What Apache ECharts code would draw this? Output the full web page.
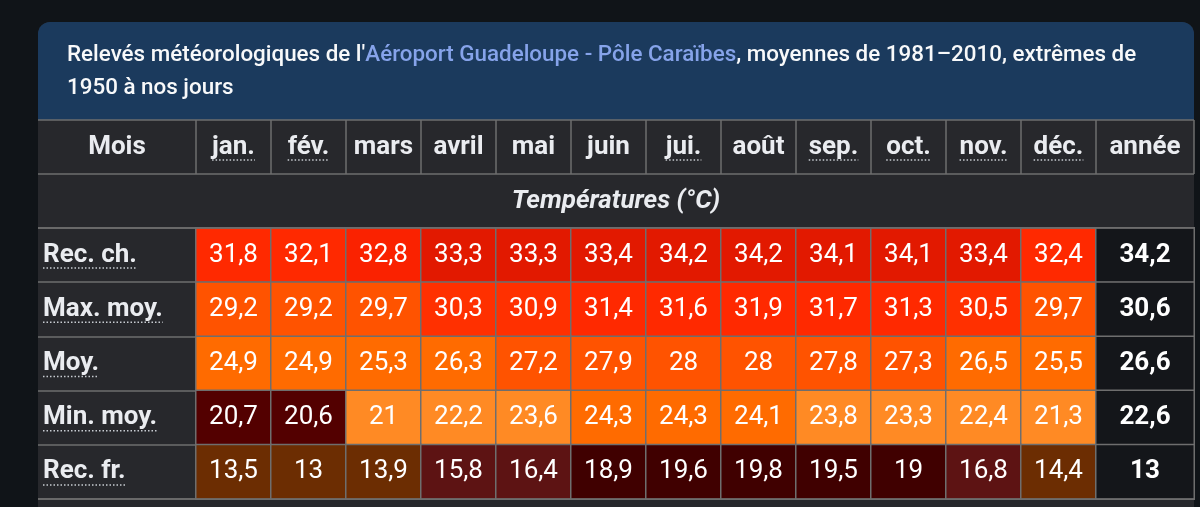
<!DOCTYPE html>
<html><head><meta charset="utf-8">
<script src="https://cdn.jsdelivr.net/npm/echarts@6/dist/echarts.min.js"></script>
<style>html,body{margin:0;padding:0;background:#101418;}#c{width:1200px;height:507px;}</style>
</head><body><div id="c"></div>
<script>
const months = ['jan.','fév.','mars','avril','mai','juin','jui.','août','sep.','oct.','nov.','déc.'];
const yearLabel = ['année'];
const rowNames = ['Rec. ch.','Max. moy.','Moy.','Min. moy.','Rec. fr.'];
const recCh  = [31.8,32.1,32.8,33.3,33.3,33.4,34.2,34.2,34.1,34.1,33.4,32.4];
const maxMoy = [29.2,29.2,29.7,30.3,30.9,31.4,31.6,31.9,31.7,31.3,30.5,29.7];
const moy    = [24.9,24.9,25.3,26.3,27.2,27.9,28,28,27.8,27.3,26.5,25.5];
const minMoy = [20.7,20.6,21,22.2,23.6,24.3,24.3,24.1,23.8,23.3,22.4,21.3];
const recFr  = [13.5,13,13.9,15.8,16.4,18.9,19.6,19.8,19.5,19,16.8,14.4];
const annee  = [34.2,30.6,26.6,22.6,13];
const abbrev = ['jan.','fév.','jui.','sep.','oct.','nov.','déc.'];

const FONT = 'Roboto, "Noto Sans", sans-serif';
const TXT = '#eaecf0';
const LINE = '#6e6e6e';
const rows = [recCh, maxMoy, moy, minMoy, recFr];
const monthData = [];
rows.forEach((r, yi) => r.forEach((v, xi) => monthData.push([xi, yi, v])));
const yearData = annee.map((v, yi) => [0, yi, v]);
const fmt = p => String(p.value[2]).replace('.', ',');

const chart = echarts.init(document.getElementById('c'));

const CARD_L = 38, CARD_R = 1194, CARD_T = 22;
const G_TOP = 228, G_H = 271;
const HEAD_FS = 26, ROW_FS = 26, VAL_FS = 26;

const baseGraphics = [
  {type:'rect', z:-10, shape:{x:CARD_L, y:CARD_T, width:CARD_R-CARD_L, height:507-CARD_T+20, r:[12,12,0,0]}, style:{fill:'#27282c'}},
  {type:'rect', z:-9, shape:{x:CARD_L, y:CARD_T, width:CARD_R-CARD_L, height:98, r:[12,12,0,0]}, style:{fill:'#1b3a5d'}},
  {type:'line', z:10, shape:{x1:CARD_L, y1:120, x2:CARD_R, y2:120}, style:{stroke:LINE, lineWidth:1.5}},
  {type:'line', z:10, shape:{x1:CARD_L, y1:174, x2:CARD_R, y2:174}, style:{stroke:LINE, lineWidth:1.5}},
  {type:'line', z:10, shape:{x1:CARD_L, y1:228, x2:CARD_R, y2:228}, style:{stroke:LINE, lineWidth:1.5}},
  {type:'line', z:10, shape:{x1:CARD_L, y1:499, x2:CARD_R, y2:499}, style:{stroke:LINE, lineWidth:1.5}},
  {type:'text', z:10, x:117, y:147, style:{text:'Mois', fill:TXT, font:'bold ' + HEAD_FS + 'px ' + FONT, textAlign:'center', textVerticalAlign:'middle'}},
  {type:'text', z:10, x:616, y:201, style:{text:'Températures (°C)', fill:TXT, font:'italic bold 26px ' + FONT, textAlign:'center', textVerticalAlign:'middle'}}
];

const headLabel = {interval:0, margin:27, verticalAlign:'middle', color:TXT, fontSize:HEAD_FS, fontWeight:'bold', fontFamily:FONT};

chart.setOption({
  backgroundColor:'#101418',
  animation:false,
  title:{
    left:62, top:34,
    text:"{w|Relevés météorologiques de l'}{l|Aéroport Guadeloupe - Pôle Caraïbes}{w|, moyennes de 1981–2010, extrêmes de}\n{w|1950 à nos jours}",
    textStyle:{rich:{
      w:{color:'#f8f9fa', fontSize:22.4, fontWeight:500, fontFamily:FONT, lineHeight:33},
      l:{color:'#86a3ea', fontSize:22.4, fontWeight:500, fontFamily:FONT, lineHeight:33}
    }}
  },
  grid:[
    {left:196, top:G_TOP, width:900, height:G_H},
    {left:1096, top:G_TOP, width:CARD_R-1096, height:G_H}
  ],
  xAxis:[
    {type:'category', gridIndex:0, data:months, position:'top', offset:54,
     axisLine:{show:false}, axisTick:{show:true, interval:0, length:54, lineStyle:{color:LINE, width:1.5}},
     axisLabel:headLabel, splitLine:{show:false}},
    {type:'category', gridIndex:1, data:yearLabel, position:'top', offset:54,
     axisLine:{show:false}, axisTick:{show:true, interval:0, length:54, lineStyle:{color:LINE, width:1.5}},
     axisLabel:headLabel, splitLine:{show:false}}
  ],
  yAxis:[
    {type:'category', gridIndex:0, data:rowNames, inverse:true,
     axisLine:{show:false}, axisTick:{show:true, interval:0, length:158, lineStyle:{color:LINE, width:1.5}},
     axisLabel:{align:'left', margin:153, color:TXT, fontSize:ROW_FS, fontWeight:'bold', fontFamily:FONT}},
    {type:'category', gridIndex:1, data:rowNames, inverse:true,
     axisLine:{show:false}, axisTick:{show:false}, axisLabel:{show:false}}
  ],
  visualMap:{
    type:'piecewise', show:false, seriesIndex:0, dimension:2,
    pieces:[
      {lt:15, color:'#6c2d02'},
      {gte:15, lt:18, color:'#5d1313'},
      {gte:18, lt:20.5, color:'#400000'},
      {gte:20.5, lt:21, color:'#530000'},
      {gte:21, lt:24, color:'#ff8a24'},
      {gte:24, lt:27, color:'#ff6b00'},
      {gte:27, lt:30, color:'#ff5300'},
      {gte:30, lt:31, color:'#ff3000'},
      {gte:31, lt:32.6, color:'#ff2900'},
      {gte:32.6, lt:33, color:'#fa2200'},
      {gte:33, color:'#e21900'}
    ]
  },
  series:[
    {type:'heatmap', xAxisIndex:0, yAxisIndex:0, data:monthData,
     itemStyle:{borderColor:LINE, borderWidth:1.5},
     label:{show:true, formatter:fmt, color:'#ffffff', fontSize:VAL_FS, fontFamily:FONT},
     emphasis:{disabled:true}},
    {type:'heatmap', xAxisIndex:1, yAxisIndex:1, data:yearData,
     itemStyle:{color:'#14161a', borderColor:LINE, borderWidth:1.5},
     label:{show:true, formatter:fmt, color:'#ffffff', fontSize:VAL_FS, fontWeight:'bold', fontFamily:FONT},
     emphasis:{disabled:true}}
  ],
  graphic:baseGraphics
});

// dotted underlines (abbreviations), measured from the rendered text
const cv = document.createElement('canvas').getContext('2d');
const dots = [];
const dotStyle = {stroke:'#c8ccd1', lineWidth:1.5, lineDash:[1.5,2]};
cv.font = 'bold ' + ROW_FS + 'px ' + FONT;
rowNames.forEach((n, i) => {
  const y = chart.convertToPixel({yAxisIndex:0}, i) + 13;
  const w = cv.measureText(n).width;
  dots.push({type:'line', z:11, shape:{x1:43, y1:y, x2:43+w, y2:y}, style:dotStyle});
});
cv.font = 'bold ' + HEAD_FS + 'px ' + FONT;
months.forEach((m, i) => {
  if (abbrev.indexOf(m) < 0) return;
  const cx = chart.convertToPixel({xAxisIndex:0}, i);
  const w = cv.measureText(m).width;
  dots.push({type:'line', z:11, shape:{x1:cx-w/2, y1:160, x2:cx+w/2, y2:160}, style:dotStyle});
});
chart.setOption({graphic: baseGraphics.concat(dots)});
</script></body></html>
